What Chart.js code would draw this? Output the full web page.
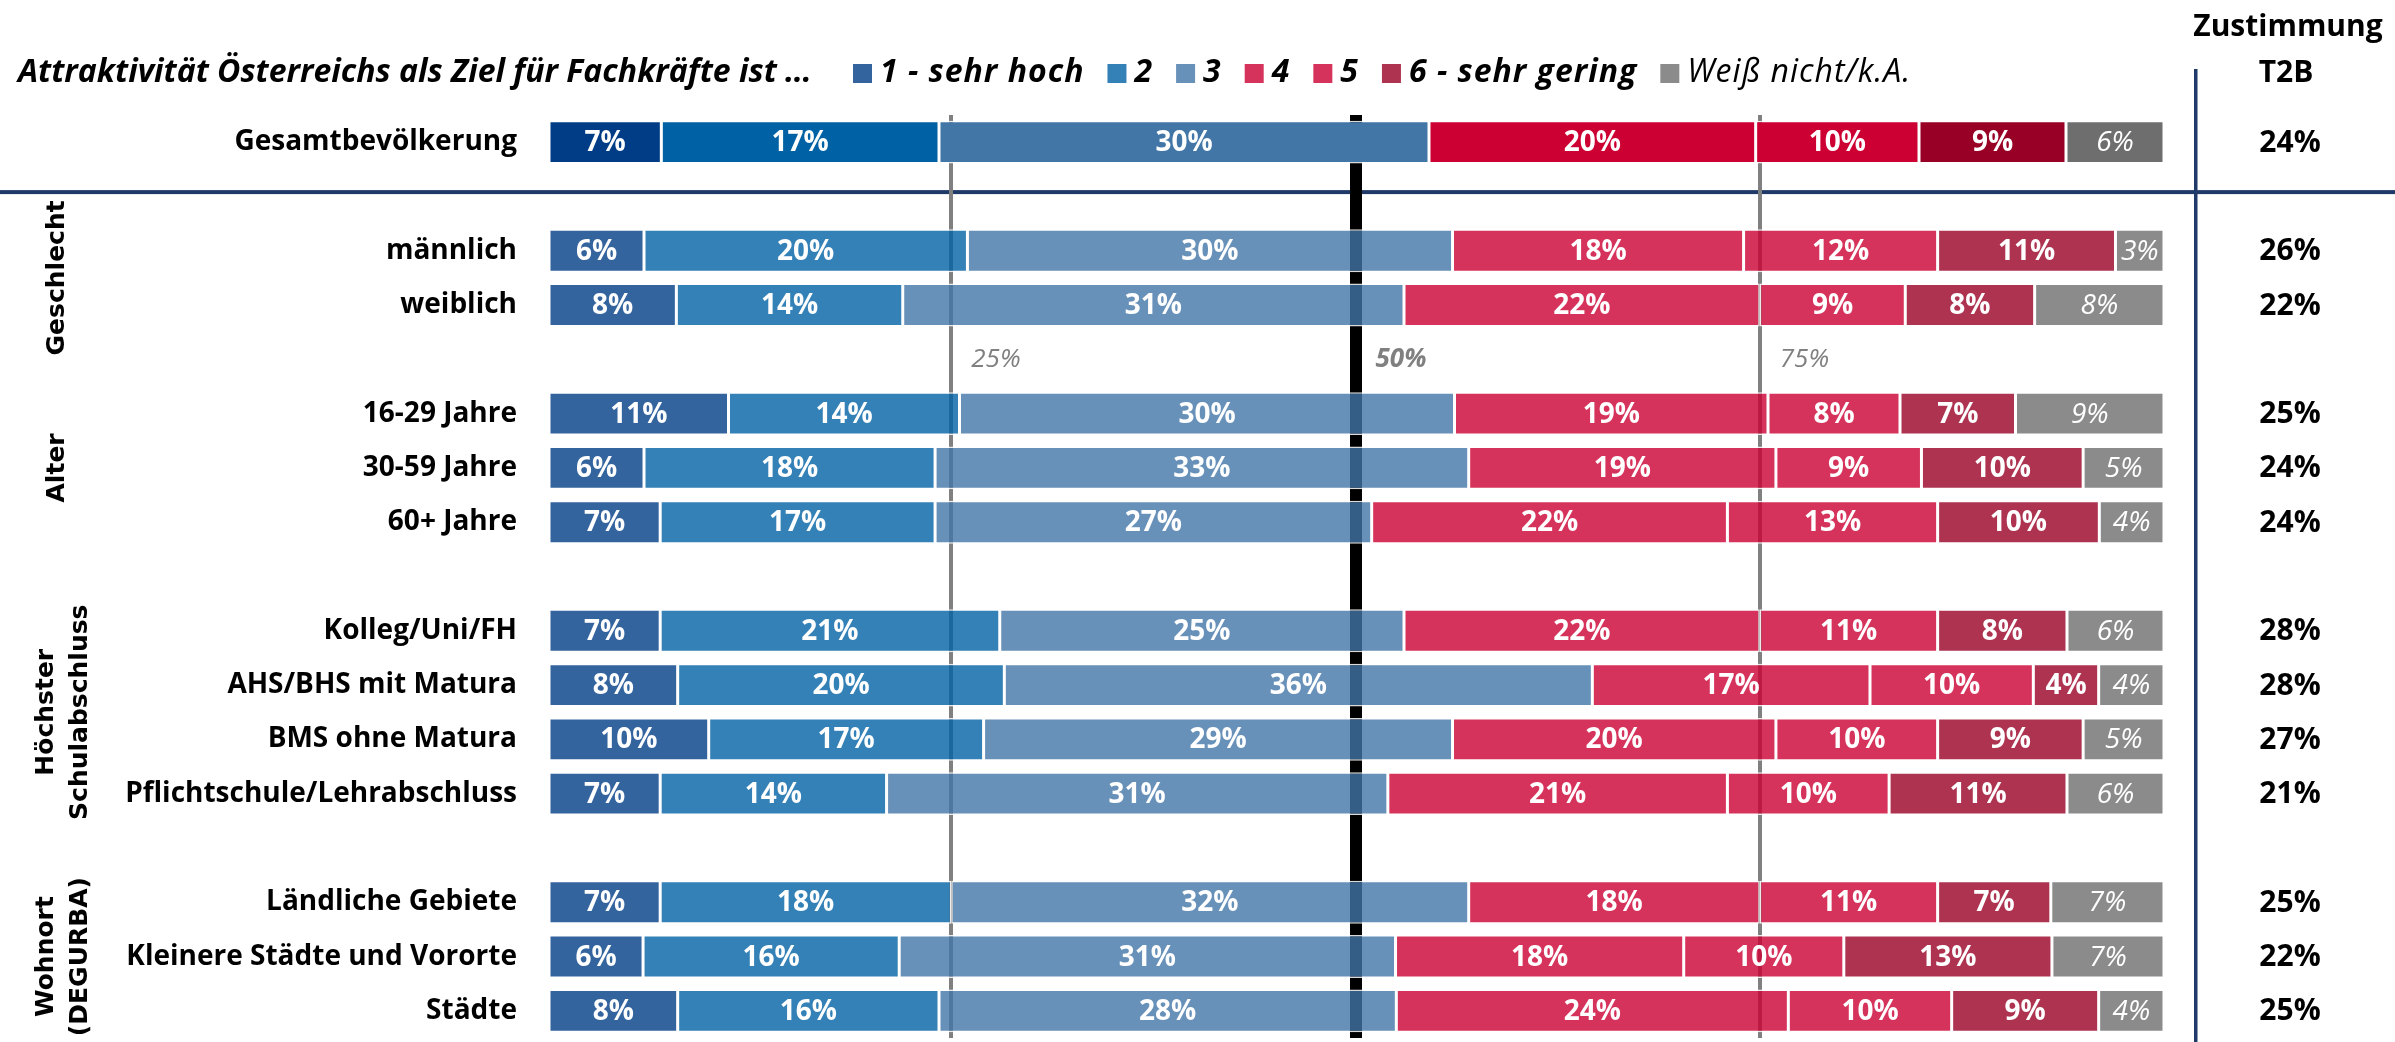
<!DOCTYPE html>
<html lang="de">
<head>
  <meta charset="UTF-8">
  <meta name="viewport" content="width=device-width, initial-scale=1.0">
  <title>Attraktivität Österreichs als Ziel für Fachkräfte</title>
  <style>
    html, body { margin: 0; padding: 0; background: #fff; }
    #wrap { width: 2395px; height: 1042px; position: relative; }
  </style>
</head>
<body>
  <div id="wrap"><canvas id="grafik"></canvas></div>

  <script src="https://cdn.jsdelivr.net/npm/chart.js"></script>
  <script>
    // Daten
    const kategorien = [
      'Gesamtbevölkerung', 'männlich', 'weiblich',
      '16-29 Jahre', '30-59 Jahre', '60+ Jahre',
      'Kolleg/Uni/FH', 'AHS/BHS mit Matura', 'BMS ohne Matura', 'Pflichtschule/Lehrabschluss',
      'Ländliche Gebiete', 'Kleinere Städte und Vororte', 'Städte'
    ];
    const stufe1     = [7, 6, 8, 11, 6, 7, 7, 8, 10, 7, 7, 6, 8];
    const stufe2     = [17, 20, 14, 14, 18, 17, 21, 20, 17, 14, 18, 16, 16];
    const stufe3     = [30, 30, 31, 30, 33, 27, 25, 36, 29, 31, 32, 31, 28];
    const stufe4     = [20, 18, 22, 19, 19, 22, 22, 17, 20, 21, 18, 18, 24];
    const stufe5     = [10, 12, 9, 8, 9, 13, 11, 10, 10, 10, 11, 10, 10];
    const stufe6     = [9, 11, 8, 7, 10, 10, 8, 4, 9, 11, 7, 13, 9];
    const weissNicht = [6, 3, 8, 9, 5, 4, 6, 4, 5, 6, 7, 7, 4];
    const zustimmungT2B = [24, 26, 22, 25, 24, 24, 28, 28, 27, 21, 25, 22, 25];
    const serienNamen = ['1 - sehr hoch', '2', '3', '4', '5', '6 - sehr gering', 'Weiß nicht/k.A.'];
    const referenzWerte = [25, 50, 75];
    const gruppen = [
      { name: ['Geschlecht'], zeilen: [1, 2] },
      { name: ['Alter'], zeilen: [3, 4, 5] },
      { name: ['Höchster', 'Schulabschluss'], zeilen: [6, 7, 8, 9] },
      { name: ['Wohnort', '(DEGURBA)'], zeilen: [10, 11, 12] }
    ];
    // nach diesen Zeilen kommt eine Leerzeile
    const leerNach = [0, 2, 5, 9];

    const farben = ['#003d86', '#0062a4', '#4276a7', '#cc0033', '#cc0033', '#990026', '#6e6e6e'];
    const hell = (hex, a = 0.8) => {
      const n = parseInt(hex.slice(1), 16);
      return `rgba(${n >> 16}, ${(n >> 8) & 255}, ${n & 255}, ${a})`;
    };

    const serien = [stufe1, stufe2, stufe3, stufe4, stufe5, stufe6, weissNicht];

    // Zeilen inkl. Leerzeilen
    const slots = [];
    kategorien.forEach((k, i) => {
      slots.push({ label: k, zeile: i });
      if (leerNach.includes(i)) slots.push({ label: '', zeile: null });
    });
    const summen = kategorien.map((_, i) => serien.reduce((s, arr) => s + arr[i], 0));
    const slotIndex = zeile => slots.findIndex(s => s.zeile === zeile);

    const FONT = "'Open Sans', 'DejaVu Sans', sans-serif";

    const beschriftung = {
      id: 'beschriftung',
      beforeDraw(chart) {
        const { ctx, scales: { y } } = chart;
        ctx.save();
        ctx.fillStyle = '#1f3a68';
        const yLinie = y.getPixelForValue(0.92);
        ctx.fillRect(0, yLinie - 2, chart.width, 4);
        ctx.fillRect(2194, 69, 3.5, chart.height - 69);
        ctx.restore();
      },
      afterDatasetsDraw(chart) {
        const { ctx, scales: { x, y } } = chart;
        ctx.save();
        ctx.textAlign = 'center';
        ctx.textBaseline = 'middle';
        ctx.fillStyle = '#fff';
        chart.data.datasets.forEach((ds, i) => {
          const meta = chart.getDatasetMeta(i);
          meta.data.forEach((el, j) => {
            const roh = ds.roh[j];
            if (roh === null) return;
            ctx.font = (i === 6 ? 'italic 400 ' : '700 ') + '28px ' + FONT;
            ctx.fillText(roh + '%', (el.x + el.base) / 2, el.y + 1);
          });
        });

        // Referenzlinien-Beschriftung
        const yRef = y.getPixelForValue(4);
        ctx.textAlign = 'left';
        ctx.fillStyle = '#808080';
        referenzWerte.forEach(v => {
          ctx.font = (v === 50 ? 'italic 700 ' : 'italic 400 ') + '26px ' + FONT;
          ctx.fillText(v + '%', x.getPixelForValue(v) + 20, yRef);
        });

        // T2B
        ctx.textAlign = 'center';
        ctx.fillStyle = '#000';
        ctx.font = '700 30px ' + FONT;
        zustimmungT2B.forEach((v, i) => {
          ctx.fillText(v + '%', 2290, y.getPixelForValue(slotIndex(i)) + 1);
        });
        ctx.restore();
      },
      afterDraw(chart) {
        const { ctx, scales: { y } } = chart;
        ctx.save();
        ctx.textBaseline = 'middle';

        // Titel
        ctx.fillStyle = '#000';
        ctx.textAlign = 'left';
        ctx.font = 'italic 700 32px ' + FONT;
        ctx.fillText('Attraktivität Österreichs als Ziel für Fachkräfte ist …', 18, 73);

        // Legende
        let lx = 853;
        ctx.letterSpacing = '1px';
        serienNamen.forEach((name, i) => {
          ctx.fillStyle = hell(farben[i]);
          ctx.fillRect(lx, 64, 19, 19);
          lx += 27;
          ctx.fillStyle = '#000';
          ctx.font = (i === 6 ? 'italic 400 ' : 'italic 700 ') + '32px ' + FONT;
          ctx.fillText(name, lx, 73);
          lx += ctx.measureText(name).width + 23;
        });
        ctx.letterSpacing = '0px';

        // Kopf rechts
        ctx.textAlign = 'center';
        ctx.font = '700 30px ' + FONT;
        ctx.fillText('Zustimmung', 2288, 27);
        ctx.fillText('T2B', 2286, 73);

        // Gruppen
        ctx.font = '700 25px DejaVu Sans, sans-serif';
        gruppen.forEach(g => {
          const ys = g.zeilen.map(z => y.getPixelForValue(slotIndex(z)));
          const yc = ys.reduce((a, b) => a + b, 0) / ys.length;
          const xs = g.name.length === 1 ? [57] : [46, 80];
          g.name.forEach((teil, k) => {
            ctx.save();
            ctx.translate(xs[k], yc);
            ctx.rotate(-Math.PI / 2);
            ctx.fillText(teil, 0, 0);
            ctx.restore();
          });
        });
        ctx.restore();
      }
    };

    new Chart(document.getElementById('grafik'), {
      type: 'bar',
      data: {
        labels: slots.map(s => s.label),
        datasets: serien.map((werte, i) => ({
          label: serienNamen[i],
          data: slots.map(s => s.zeile === null ? null : werte[s.zeile] / summen[s.zeile] * 100),
          roh: slots.map(s => s.zeile === null ? null : werte[s.zeile]),
          backgroundColor: c => c.dataIndex === 0 ? farben[i] : hell(farben[i]),
          borderColor: 'rgba(255,255,255,0.85)',
          borderWidth: 1.5,
          borderSkipped: false,
          barPercentage: 0.79,
          categoryPercentage: 1
        }))
      },
      options: {
        indexAxis: 'y',
        responsive: true,
        maintainAspectRatio: false,
        animation: false,
        layout: { padding: { top: 115, right: 231, bottom: 4, left: 0 } },
        plugins: {
          legend: { display: false },
          tooltip: { enabled: false }
        },
        scales: {
          x: {
            stacked: true,
            min: 0,
            max: 100,
            ticks: { display: false, stepSize: 25 },
            border: { display: false },
            grid: {
              drawTicks: false,
              color: c => c.tick.value === 50 ? '#000' : (c.tick.value === 25 || c.tick.value === 75 ? '#808080' : 'rgba(0,0,0,0)'),
              lineWidth: c => c.tick.value === 50 ? 12 : 4
            },
            afterFit: s => { s.height = 0; s.paddingLeft = 0; s.paddingRight = 0; }
          },
          y: {
            stacked: true,
            grid: { display: false },
            border: { display: false },
            ticks: {
              autoSkip: false,
              color: '#000',
              padding: 22,
              font: { family: FONT, weight: 'bold', size: 28 }
            },
            afterFit: s => { s.width = 547; s.paddingTop = 0; s.paddingBottom = 0; }
          }
        }
      },
      plugins: [beschriftung]
    });
  </script>
</body>
</html>
